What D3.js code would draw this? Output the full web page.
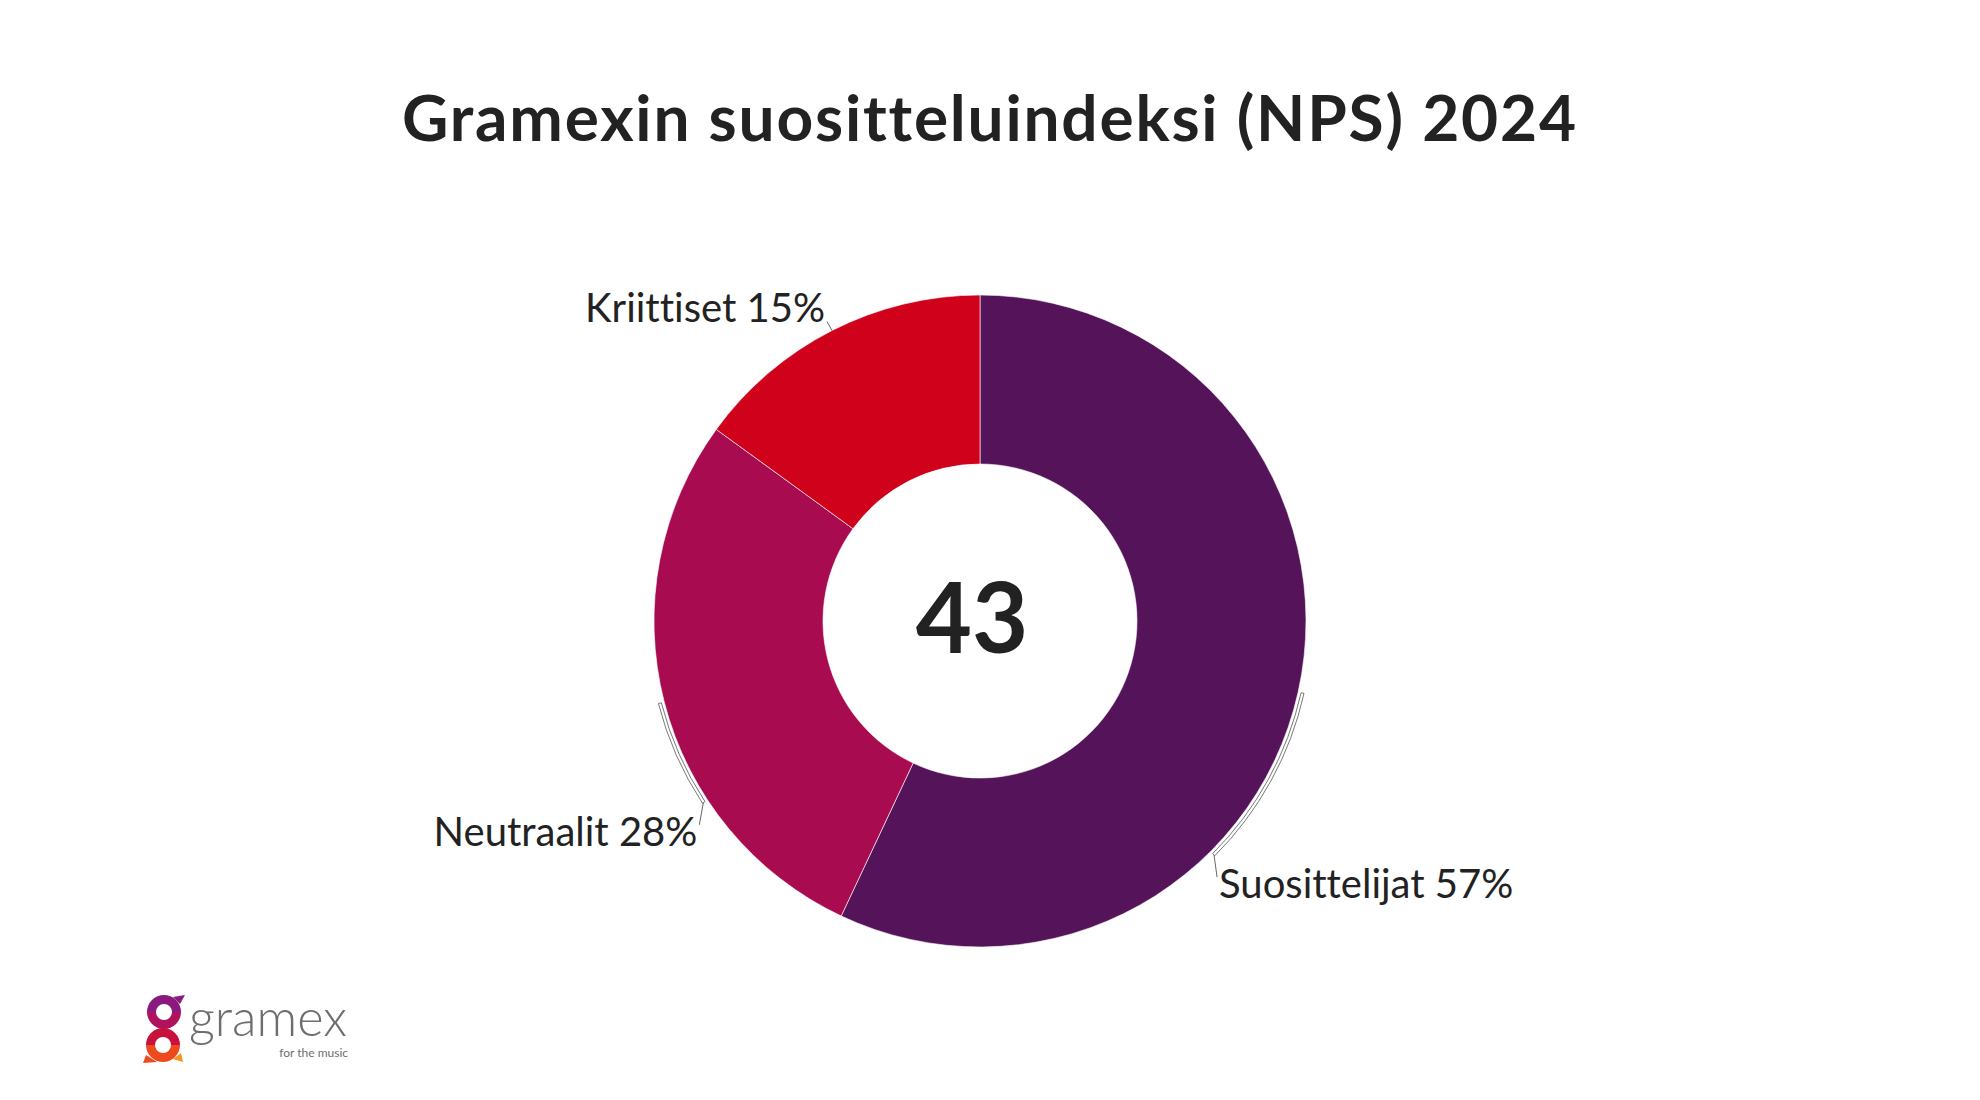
<!DOCTYPE html>
<html>
<head>
<meta charset="utf-8">
<script src="https://cdn.jsdelivr.net/npm/d3@7"></script>
<style>
  body { margin: 0; background: #fff; }
  text { font-family: Lato, "Noto Sans", sans-serif; fill: #222; font-variant-ligatures: none; font-feature-settings: "liga" 0; }
</style>
</head>
<body>
<script>
// chart values
const categories = ["Suosittelijat", "Neutraalit", "Kriittiset"];
const shares = [57, 28, 15];
const sliceColors = ["#55145a", "#a80b50", "#d0011b"];
const npsScore = 43;
const chartTitle = "Gramexin suositteluindeksi (NPS) 2024";

var width = 1980, height = 1100;
var cx = 980, cy = 621;
var outerR = 326, innerR = 157;

// where each label ends up relative to its slice (angle in degrees, clockwise from top)
var labelLayout = {
  "Suosittelijat": { bend: 135, tail: [3, 22], text: [5, 43], anchor: "start" },
  "Neutraalit":    { bend: 236.7, tail: [-4, 22], text: [-6, 43], anchor: "end" },
  "Kriittiset":    { bend: null, tail: [-5, -9], text: [-7, -9], anchor: "end" }
};

var svg = d3.select("body").append("svg")
  .attr("width", width)
  .attr("height", height)
  .style("display", "block");

svg.append("rect").attr("width", width).attr("height", height).attr("fill", "#fff");

svg.append("text")
  .attr("x", 989)
  .attr("y", 141)
  .attr("text-anchor", "middle")
  .attr("textLength", 1174)
  .attr("lengthAdjust", "spacing")
  .style("font-size", "64px")
  .style("font-weight", 700)
  .text(chartTitle);

var rows = categories.map(function(c, i) { return { name: c, value: shares[i], color: sliceColors[i] }; });

var pie = d3.pie().sort(null).value(function(d) { return d.value; });
var arc = d3.arc().innerRadius(innerR).outerRadius(outerR);
var arcs = pie(rows);

var g = svg.append("g").attr("transform", "translate(" + cx + "," + cy + ")");

g.selectAll("path.slice")
  .data(arcs)
  .enter().append("path")
  .attr("class", "slice")
  .attr("d", arc)
  .attr("fill", function(d) { return d.data.color; })
  .attr("stroke", "#fff")
  .attr("stroke-width", 0.6);

function polar(angleDeg, r) {
  var a = angleDeg * Math.PI / 180;
  return [r * Math.sin(a), -r * Math.cos(a)];
}

// leader lines + labels
arcs.forEach(function(d) {
  var lay = labelLayout[d.data.name];
  var mid = (d.startAngle + d.endAngle) / 2 * 180 / Math.PI;
  var end;
  if (lay.bend !== null) {
    // thin band hugging the rim, like the original connector
    var a0 = Math.min(mid, lay.bend) * Math.PI / 180, a1 = Math.max(mid, lay.bend) * Math.PI / 180;
    var band = d3.arc().innerRadius(outerR + 3).outerRadius(outerR + 6).startAngle(a0).endAngle(a1);
    g.append("path")
      .attr("d", band())
      .attr("fill", "#fff")
      .attr("stroke", "#555")
      .attr("stroke-width", 0.8);
    end = polar(lay.bend, outerR + 5);
  } else {
    end = polar(mid, outerR);
  }
  g.append("line")
    .attr("x1", end[0]).attr("y1", end[1])
    .attr("x2", end[0] + lay.tail[0]).attr("y2", end[1] + lay.tail[1])
    .attr("stroke", "#555")
    .attr("stroke-width", 0.9);
  g.append("text")
    .attr("x", end[0] + lay.text[0])
    .attr("y", end[1] + lay.text[1])
    .attr("text-anchor", lay.anchor)
    .style("font-size", "40px")
    .text(d.data.name + " " + d.data.value + "%");
});

g.append("text")
  .attr("x", -8)
  .attr("y", 32)
  .attr("text-anchor", "middle")
  .style("font-size", "97px")
  .style("font-weight", 700)
  .text(npsScore);

// gramex logo
var logo = svg.append("g").attr("transform", "translate(143,995)");
var ringArc = d3.arc();
var topRing = [["#8a1a7e", -Math.PI / 2, Math.PI / 2], ["#b0125f", Math.PI / 2, 1.5 * Math.PI]];
topRing.forEach(function(s) {
  logo.append("path")
    .attr("transform", "translate(21,17)")
    .attr("d", ringArc({ innerRadius: 8, outerRadius: 17, startAngle: s[1], endAngle: s[2] }))
    .attr("fill", s[0]);
});
var bottomRing = [["#c8123c", -Math.PI / 2, Math.PI / 2], ["#ee4a1d", Math.PI / 2, 1.5 * Math.PI]];
bottomRing.forEach(function(s) {
  logo.append("path")
    .attr("transform", "translate(20,50)")
    .attr("d", ringArc({ innerRadius: 8, outerRadius: 17, startAngle: s[1], endAngle: s[2] }))
    .attr("fill", s[0]);
});
logo.append("path").attr("d", "M30,2 L42,0 L37,9 Z").attr("fill", "#8a1a7e");
logo.append("path").attr("d", "M3,60 L0,68 L14,67 Z").attr("fill", "#ee4a1d");
logo.append("path").attr("d", "M30,64 L38,58 L40,67 Z").attr("fill", "#f7931e");

logo.append("text")
  .attr("x", 46).attr("y", 41)
  .attr("textLength", 158)
  .attr("lengthAdjust", "spacingAndGlyphs")
  .style("font-size", "52px")
  .style("font-weight", 300)
  .style("fill", "#6d6e71")
  .text("gramex");
logo.append("text")
  .attr("x", 205).attr("y", 62)
  .attr("text-anchor", "end")
  .style("font-size", "12px")
  .style("fill", "#6d6e71")
  .text("for the music");
</script>
</body>
</html>
